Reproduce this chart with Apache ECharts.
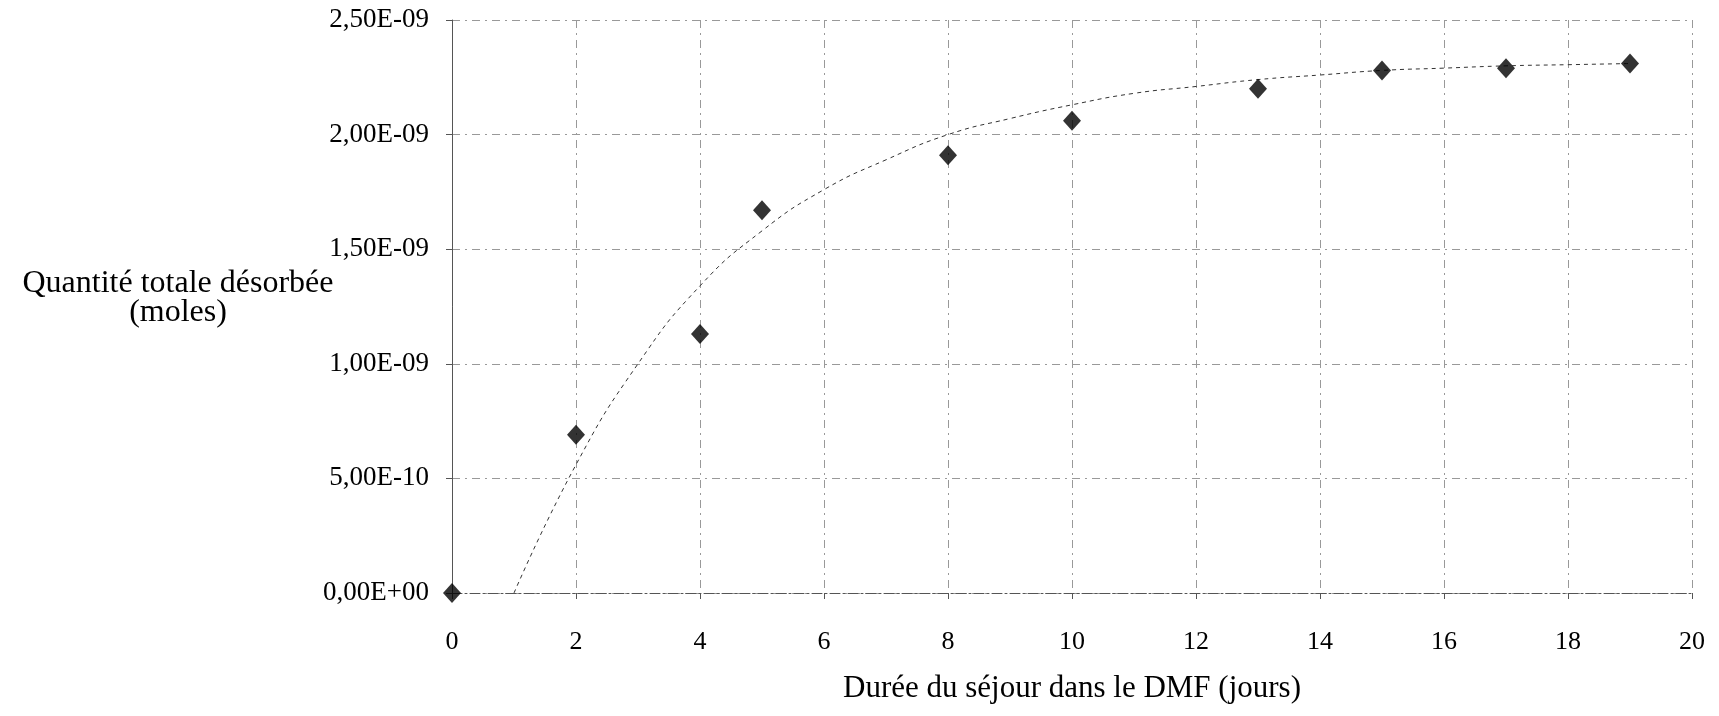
<!DOCTYPE html>
<html>
<head>
<meta charset="utf-8">
<script src="https://cdn.jsdelivr.net/npm/echarts@6/dist/echarts.min.js"></script>
<style>
  html, body { margin: 0; padding: 0; background: #fff; }
  #chart { width: 1719px; height: 716px; }
</style>
</head>
<body>
<div id="chart"></div>
<script>
// Measured points: duration in DMF (days) vs total desorbed quantity (moles)
const daysMeasured = [0, 2, 4, 5, 8, 10, 13, 15, 17, 19];
const molesMeasured = [0, 6.9e-10, 1.13e-9, 1.67e-9, 1.91e-9, 2.06e-9, 2.20e-9, 2.28e-9, 2.29e-9, 2.31e-9];

// Trend curve
const daysTrend = [1, 2, 3, 4, 5, 6, 7, 8, 9, 10, 11, 12, 13, 14, 15, 16, 17, 18, 19];
const molesTrend = [0, 5.6e-10, 1.0e-9, 1.34e-9, 1.58e-9, 1.76e-9, 1.89e-9, 2.0e-9, 2.07e-9, 2.13e-9, 2.18e-9, 2.21e-9, 2.24e-9, 2.26e-9, 2.28e-9, 2.29e-9, 2.30e-9, 2.305e-9, 2.31e-9];

// Tick labels
const yTickLabels = ['0,00E+00', '5,00E-10', '1,00E-09', '1,50E-09', '2,00E-09', '2,50E-09'];

const xAxisTitle = 'Durée du séjour dans le DMF (jours)';
const yAxisTitle = 'Quantité totale désorbée\n(moles)';

const FONT = '"Liberation Serif", "Times New Roman", serif';

const chart = echarts.init(document.getElementById('chart'), null, { renderer: 'canvas' });

const pts = daysMeasured.map((d, i) => [d, molesMeasured[i]]);
const trend = daysTrend.map((d, i) => [d, molesTrend[i]]);

chart.setOption({
  animation: false,
  backgroundColor: '#ffffff',
  grid: { left: 452, right: 27, top: 20, bottom: 123, containLabel: false },
  xAxis: {
    type: 'value',
    min: 0, max: 20, interval: 2,
    name: xAxisTitle,
    nameLocation: 'middle',
    nameGap: 80,
    nameTextStyle: { fontFamily: FONT, fontSize: 31, color: '#000' },
    axisLine: { show: true, onZero: false, lineStyle: { color: '#555', width: 1, type: [10, 3, 2, 3] } },
    axisTick: { show: true, inside: false, length: 6, lineStyle: { color: '#555' } },
    axisLabel: { fontFamily: FONT, fontSize: 26, color: '#000', margin: 36 },
    splitLine: { show: true, lineStyle: { color: '#999', width: 1, type: [8, 5, 2, 5] } }
  },
  yAxis: {
    type: 'value',
    min: 0, max: 2.5e-9, interval: 5e-10,
    axisLine: { show: true, lineStyle: { color: '#555', width: 1 } },
    axisTick: { show: true, inside: false, length: 6, lineStyle: { color: '#555' } },
    axisLabel: {
      fontFamily: FONT, fontSize: 27, color: '#000', margin: 23,
      formatter: (v, i) => yTickLabels[i]
    },
    splitLine: { show: true, lineStyle: { color: '#999', width: 1, type: [8, 5, 2, 5] } }
  },
  graphic: [{
    type: 'text',
    x: 178, y: 298,
    style: {
      text: yAxisTitle,
      font: '32px ' + FONT,
      fill: '#000',
      align: 'center',
      verticalAlign: 'middle',
      lineHeight: 29
    }
  }],
  series: [
    {
      name: 'Tendance',
      type: 'line',
      data: trend,
      smooth: 0.5,
      showSymbol: false,
      symbol: 'none',
      lineStyle: { color: '#333', width: 1, type: [4, 4] },
      z: 2
    },
    {
      name: 'Mesures',
      type: 'scatter',
      data: pts,
      symbol: 'diamond',
      symbolSize: [18, 20],
      itemStyle: { color: '#000' },
      z: 3
    }
  ]
});
</script>
</body>
</html>
